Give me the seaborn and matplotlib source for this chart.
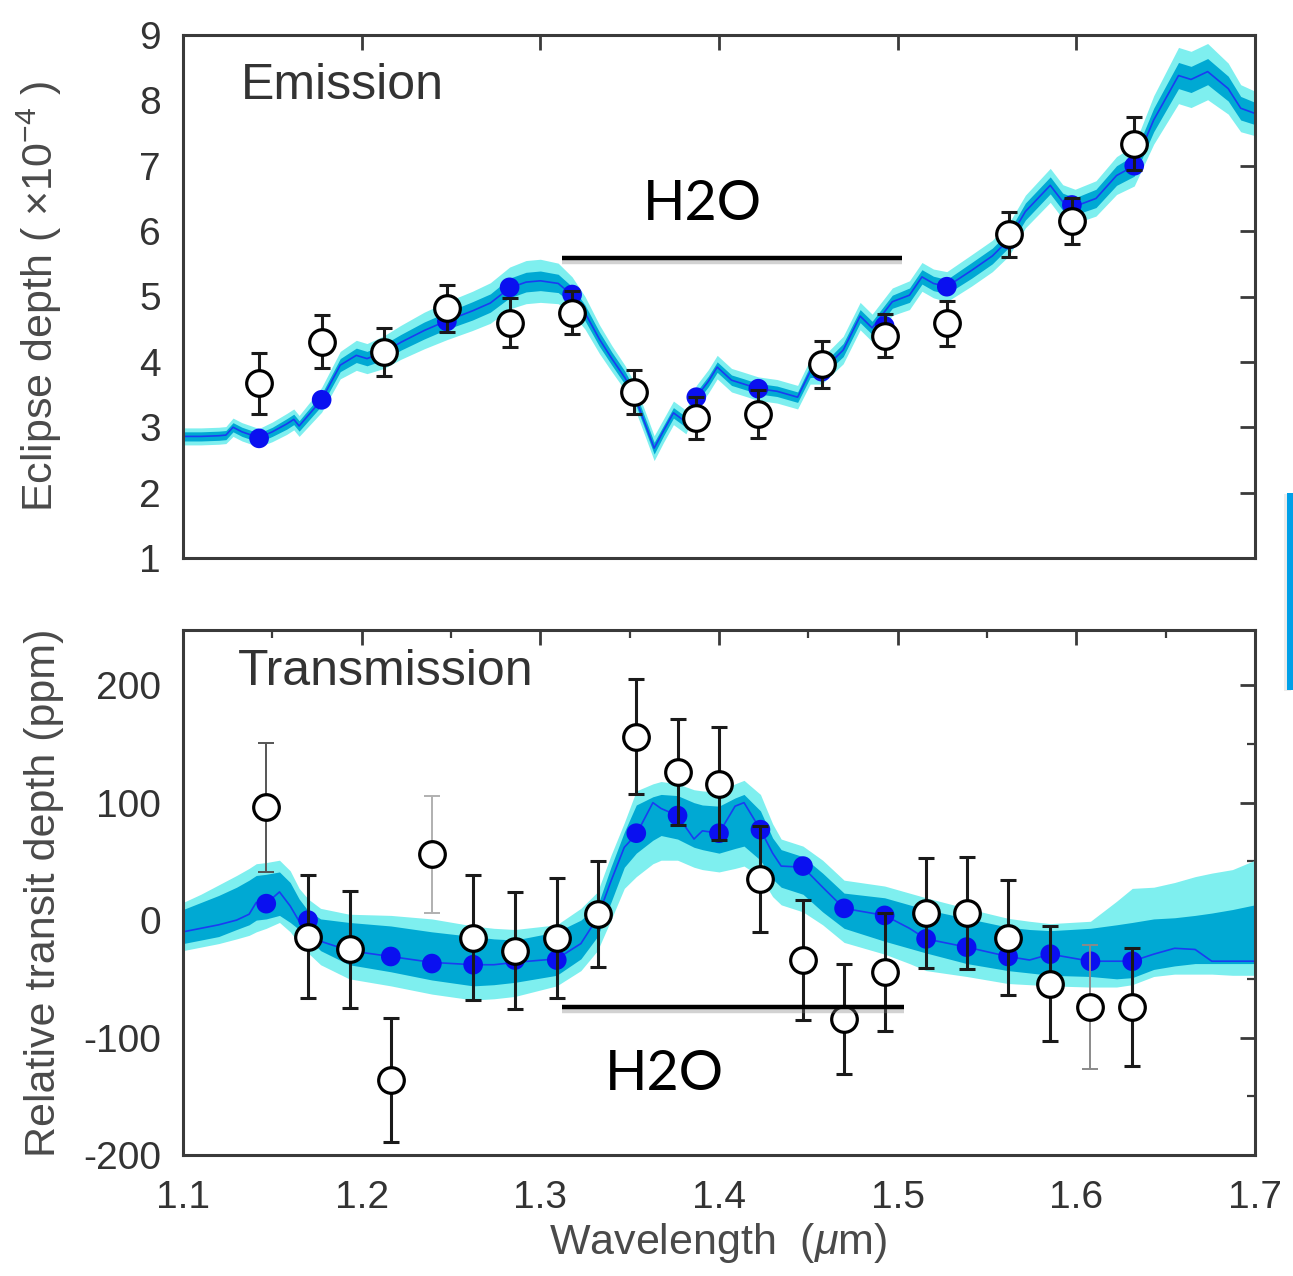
import numpy as np
import pandas as pd
import matplotlib
matplotlib.use("Agg")
import matplotlib.pyplot as plt
import seaborn as sns
from matplotlib import patheffects as pe
from matplotlib.patches import Rectangle

# ---------------- data ----------------
# Emission: model spectrum with 1- and 2-sigma envelopes
em_wl = [1.100, 1.110, 1.120, 1.124, 1.128, 1.133, 1.1425, 1.150, 1.158, 1.162,
         1.165, 1.1776, 1.188, 1.197, 1.203, 1.2125, 1.222, 1.235, 1.2477, 1.262,
         1.272, 1.2828, 1.292, 1.300, 1.310, 1.3178, 1.325, 1.333, 1.340, 1.3475,
         1.3525, 1.358, 1.3637, 1.369, 1.3745, 1.3815, 1.3873, 1.394, 1.399, 1.407,
         1.414, 1.422, 1.4325, 1.444, 1.451, 1.4575, 1.4695, 1.479, 1.4857, 1.497,
         1.5066, 1.5136, 1.520, 1.5275, 1.5414, 1.553, 1.5622, 1.5715, 1.5854, 1.5924,
         1.5993, 1.611, 1.6225, 1.6324, 1.6433, 1.6572, 1.6642, 1.6735, 1.685, 1.692,
         1.700]
em_model = [2.86, 2.86, 2.87, 2.88, 3.00, 2.93, 2.84, 2.93, 3.05, 3.12,
            3.02, 3.42, 3.95, 4.10, 4.05, 4.15, 4.30, 4.48, 4.63, 4.78,
            4.90, 5.13, 5.22, 5.24, 5.20, 5.02, 4.75, 4.35, 4.05, 3.75,
            3.50, 3.10, 2.68, 2.95, 3.22, 3.08, 3.46, 3.70, 3.92, 3.72,
            3.66, 3.59, 3.55, 3.46, 3.85, 3.86, 4.18, 4.70, 4.52, 4.92,
            5.02, 5.30, 5.20, 5.15, 5.40, 5.62, 5.87, 6.30, 6.70, 6.45,
            6.38, 6.50, 6.85, 7.00, 7.70, 8.38, 8.32, 8.44, 8.18, 7.88,
            7.80]
em_dark_hw = [0.07, 0.07, 0.07, 0.07, 0.07, 0.07, 0.07, 0.07, 0.08, 0.08,
              0.08, 0.09, 0.10, 0.11, 0.11, 0.12, 0.12, 0.13, 0.13, 0.14,
              0.14, 0.15, 0.15, 0.15, 0.14, 0.13, 0.12, 0.11, 0.10, 0.10,
              0.09, 0.09, 0.09, 0.08, 0.08, 0.08, 0.08, 0.08, 0.08, 0.08,
              0.08, 0.08, 0.08, 0.08, 0.09, 0.09, 0.10, 0.10, 0.10, 0.10,
              0.11, 0.11, 0.11, 0.11, 0.12, 0.12, 0.12, 0.13, 0.13, 0.13,
              0.13, 0.14, 0.15, 0.16, 0.18, 0.20, 0.20, 0.20, 0.19, 0.18,
              0.17]
em_light_hw = [0.13, 0.13, 0.13, 0.13, 0.14, 0.14, 0.14, 0.15, 0.16, 0.16,
               0.16, 0.19, 0.21, 0.23, 0.23, 0.25, 0.26, 0.28, 0.29, 0.30,
               0.31, 0.32, 0.33, 0.33, 0.31, 0.28, 0.25, 0.22, 0.20, 0.19,
               0.19, 0.19, 0.19, 0.18, 0.18, 0.18, 0.18, 0.18, 0.18, 0.18,
               0.18, 0.18, 0.18, 0.18, 0.19, 0.20, 0.21, 0.21, 0.21, 0.21,
               0.22, 0.22, 0.22, 0.23, 0.24, 0.24, 0.25, 0.25, 0.26, 0.26,
               0.26, 0.27, 0.29, 0.31, 0.37, 0.43, 0.43, 0.43, 0.39, 0.36,
               0.34]

# Emission: binned model and measured eclipse depths (x1e-4)
em_obs_wl = [1.1426, 1.1776, 1.2125, 1.2477, 1.2828, 1.3178, 1.3525, 1.3873,
             1.4220, 1.4575, 1.4927, 1.5275, 1.5622, 1.5975, 1.6324]
em_bin = [2.83, 3.42, 4.13, 4.62, 5.14, 5.03, 3.50, 3.46,
          3.59, 3.85, 4.55, 5.15, 5.87, 6.40, 7.00]
em_obs = [3.67, 4.31, 4.15, 4.82, 4.60, 4.75, 3.54, 3.14,
          3.20, 3.96, 4.40, 4.59, 5.95, 6.16, 7.34]
em_err = [0.46, 0.40, 0.37, 0.36, 0.37, 0.33, 0.33, 0.32,
          0.37, 0.36, 0.33, 0.34, 0.35, 0.35, 0.41]

# Transmission: model spectrum with 1- and 2-sigma envelopes (ppm)
tr_wl = [1.100, 1.110, 1.120, 1.130, 1.137, 1.141, 1.1466, 1.154, 1.160, 1.165,
         1.170, 1.177, 1.193, 1.2163, 1.2393, 1.2624, 1.274, 1.2858, 1.3092, 1.3227,
         1.332, 1.3395, 1.347, 1.3537, 1.363, 1.3676, 1.3768, 1.386, 1.3907, 1.400,
         1.409, 1.414, 1.4232, 1.430, 1.4348, 1.447, 1.458, 1.470, 1.4927, 1.5066,
         1.5159, 1.5386, 1.5618, 1.5738, 1.5854, 1.6079, 1.6225, 1.6313, 1.6433, 1.655,
         1.6665, 1.6758, 1.6874, 1.700]
tr_model = [-10, -7, -4, 0, 5, 15, 14, 24, 12, -1,
            -5, -18, -26, -31, -36, -38, -38, -36, -33, -20,
            2, 33, 62, 73, 100, 95, 89, 69, 76, 74,
            97, 100, 77, 57, 46, 45, 28, 10, 4, -7,
            -16, -23, -31, -34, -29, -35, -35, -35, -29, -24,
            -25, -35, -35, -35]
tr_dark_lo = [-20, -17, -14, -8, -4, 0, 1, 4, -2, -8,
              -15, -26, -38, -44, -51, -56, -55, -53, -47, -33,
              -14, 15, 45, 57, 68, 72, 69, 62, 60, 57,
              61, 63, 51, 35, 28, 22, 7, -7, -18, -24,
              -28, -37, -43, -45, -47, -48, -50, -49, -42, -39,
              -37, -37, -37, -37]
tr_dark_hi = [9, 15, 21, 28, 34, 38, 39, 41, 32, 18,
              8, 1, -2, -5, -10, -14, -16, -17, -10, 0,
              12, 45, 75, 98, 105, 107, 106, 100, 98, 97,
              104, 107, 93, 70, 60, 54, 40, 23, 19, 13,
              9, 1.5, -6, -8, -9, -7, -4, -2, 1, 2,
              4, 6, 9, 13]
tr_light_lo = [-26, -23, -20, -16, -13, -10, -7, -2, -10, -20,
               -28, -38, -50, -56, -63, -68, -67, -65, -56, -43,
               -26, 0, 27, 37, 48, 51, 51, 45, 43, 41,
               44, 46, 37, 20, 13, 7, -4, -19, -29, -37,
               -43, -48, -54, -55, -56, -57, -57, -55, -48, -46,
               -46, -46, -47, -47]
tr_light_hi = [15, 22, 30, 38, 44, 48, 49, 51, 42, 27,
               18, 10, 5, 4, 1, -5, -7, -8, -4, 10,
               24, 55, 83, 110, 116, 118, 116, 111, 110, 109,
               116, 119, 107, 82, 69, 63, 51, 34, 29, 23,
               19, 10, 1.5, -1, -3, -1, 16, 27, 28, 32,
               37, 40, 43, 51]

# Transmission: binned model and measured relative transit depths (ppm)
tr_obs_wl = [1.1466, 1.1700, 1.1934, 1.2163, 1.2393, 1.2624, 1.2858, 1.3092,
             1.3320, 1.3537, 1.3768, 1.4000, 1.4232, 1.4470, 1.4700, 1.4927,
             1.5159, 1.5386, 1.5618, 1.5854, 1.6079, 1.6313]
tr_bin = [14, 0, -22, -31, -37, -38, -34, -34,
          3, 74, 89, 74, 77, 46, 10, 4,
          -16, -23, -31, -29, -35, -35]
tr_obs = [96, -14, -25, -136, 56, -15, -26, -15,
          5, 156, 126, 116, 35, -34, -84, -44,
          6, 6, -15, -54, -74, -74]
tr_err = [55, 52, 50, 53, 50, 53, 50, 51,
          45, 49, 45, 48, 45, 51, 47, 50,
          47, 48, 49, 49, 53, 50]
tr_err_color = ["#555555", "k", "k", "k", "#b0b0b0", "k", "k", "k",
                "k", "k", "k", "k", "k", "k", "k", "k",
                "k", "k", "k", "k", "#8a8a8a", "k"]

# H2O band markers: (start, end, level) and label position
h2o_em = (1.3123, 1.5022, 5.59, 1.3905, 6.17)
h2o_tr = (1.3123, 1.5034, -74.0, 1.3693, -145.0)

# ---------------- style ----------------
sns.set_theme(style="white")
plt.rcParams["font.family"] = ["Liberation Sans", "DejaVu Sans"]
plt.rcParams["mathtext.fontset"] = "custom"
plt.rcParams["mathtext.rm"] = "Liberation Sans"
plt.rcParams["mathtext.it"] = "Liberation Sans:italic"
plt.rcParams["axes.unicode_minus"] = False

LIGHT = "#7eefef"
DARK = "#00a9d3"
LINE = "#1a3cf2"
DOT = "#0a10f0"
AXC = "#3a3a3a"
TXT = "#333333"

W, H = 1293, 1276
fig = plt.figure(figsize=(W / 100, H / 100), dpi=100)
fig.patch.set_facecolor("white")
ax1 = fig.add_axes([183 / W, 1 - 558 / H, 1072 / W, 523 / H])
ax2 = fig.add_axes([183 / W, 1 - 1155 / H, 1072 / W, 525 / H])


def style_axes(ax):
    ax.set_facecolor("white")
    for s in ax.spines.values():
        s.set_color(AXC)
        s.set_linewidth(2.2)
    ax.tick_params(which="major", direction="in", length=11, width=2,
                   color=AXC, top=True, right=True, labelsize=28,
                   labelcolor=TXT)
    ax.tick_params(which="minor", direction="in", length=6, width=1.6,
                   color=AXC, top=True, right=True)
    ax.tick_params(axis="y", pad=16)
    ax.tick_params(axis="x", pad=18)


def draw_panel(ax, wl, model, dlo, dhi, llo, lhi, obs_wl, binned, obs, err, ecol):
    ax.fill_between(wl, llo, lhi, color=LIGHT, lw=0, zorder=1)
    ax.fill_between(wl, dlo, dhi, color=DARK, lw=0, zorder=1.5)
    sns.lineplot(x=wl, y=model, ax=ax, color=LINE, lw=1.2, zorder=2,
                 estimator=None, sort=False)
    sns.scatterplot(x=obs_wl, y=binned, ax=ax, color=DOT, s=200,
                    edgecolor="none", zorder=3)
    for x, y, e, c in zip(obs_wl, obs, err, ecol):
        thin = c != "k"
        ax.errorbar(x, y, yerr=e, fmt="none", ecolor=c,
                    elinewidth=1.4 if thin else 2.2,
                    capsize=6, capthick=1.4 if thin else 2.2, zorder=4)
    sns.scatterplot(x=obs_wl, y=obs, ax=ax, color="white", s=340,
                    edgecolor="black", linewidth=2.3, zorder=5)


def h2o_marker(ax, spec):
    x0, x1, lvl, tx, ty = spec
    ax.plot([x0, x1], [lvl, lvl], color="black", lw=3.2, zorder=6,
            solid_capstyle="butt",
            path_effects=[pe.SimpleLineShadow(offset=(0, -3), shadow_color="gray",
                                              alpha=0.35),
                          pe.Normal()])
    ax.text(tx, ty, "H2O", fontsize=40, color="black", ha="center",
            va="baseline", family=["Lato", "DejaVu Sans"], zorder=6)


# ---------------- emission ----------------
style_axes(ax1)
em_lo_d = [m - h for m, h in zip(em_model, em_dark_hw)]
em_hi_d = [m + h for m, h in zip(em_model, em_dark_hw)]
em_lo_l = [m - h for m, h in zip(em_model, em_light_hw)]
em_hi_l = [m + h for m, h in zip(em_model, em_light_hw)]
draw_panel(ax1, em_wl, em_model, em_lo_d, em_hi_d, em_lo_l, em_hi_l,
           em_obs_wl, em_bin, em_obs, em_err, ["k"] * len(em_obs))
ax1.set_xlim(1.1, 1.7)
ax1.set_ylim(1, 9)
xt = [1.1, 1.2, 1.3, 1.4, 1.5, 1.6, 1.7]
ax1.set_xticks(xt)
ax1.set_xticklabels([])
ax1.set_yticks(range(1, 10))
ax1.set_yticklabels([str(v) for v in range(1, 10)])
ax1.set_xlabel("")
ax1.set_ylabel(r"Eclipse depth ( $\times10^{-4}$ )", fontsize=31, color="#4a4a4a")
ax1.yaxis.set_label_coords(-0.111, 0.5)
ax1.text(1.1325, 8.02, "Emission", fontsize=36, color=TXT, va="baseline")
h2o_marker(ax1, h2o_em)

# ---------------- transmission ----------------
style_axes(ax2)
draw_panel(ax2, tr_wl, tr_model, tr_dark_lo, tr_dark_hi, tr_light_lo, tr_light_hi,
           tr_obs_wl, tr_bin, tr_obs, tr_err, tr_err_color)
ax2.set_xlim(1.1, 1.7)
ax2.set_ylim(-200, 247)
ax2.set_xticks(xt)
ax2.set_xticklabels([f"{v:.1f}" for v in xt])
ax2.set_xticks([1.15, 1.25, 1.35, 1.45, 1.55, 1.65], minor=True)
ax2.set_yticks([-200, -100, 0, 100, 200])
ax2.set_yticklabels(["-200", "-100", "0", "100", "200"])
ax2.set_yticks([-150, -50, 50, 150], minor=True)
ax2.set_ylabel("Relative transit depth (ppm)", fontsize=31, color="#4a4a4a")
ax2.yaxis.set_label_coords(-0.111, 0.5)
ax2.set_xlabel(r"Wavelength  ($\mu$m)", fontsize=31, color="#4a4a4a")
ax2.xaxis.set_label_coords(0.499, -0.125)
ax2.xaxis.label.set_va("top")
ax2.text(1.1307, 200, "Transmission", fontsize=36, color=TXT, va="baseline")
h2o_marker(ax2, h2o_tr)

# accent bar at the right edge of the figure
bar = Rectangle((1287 / W, 1 - 690 / H), 7 / W, 197 / H, transform=fig.transFigure,
                facecolor="#00a0e8", edgecolor="none", zorder=10,
                path_effects=[pe.SimplePatchShadow(offset=(-2, -1), shadow_rgbFace="gray",
                                                   alpha=0.15), pe.Normal()])
fig.add_artist(bar)

fig.savefig("out.png", dpi=100, facecolor="white")
